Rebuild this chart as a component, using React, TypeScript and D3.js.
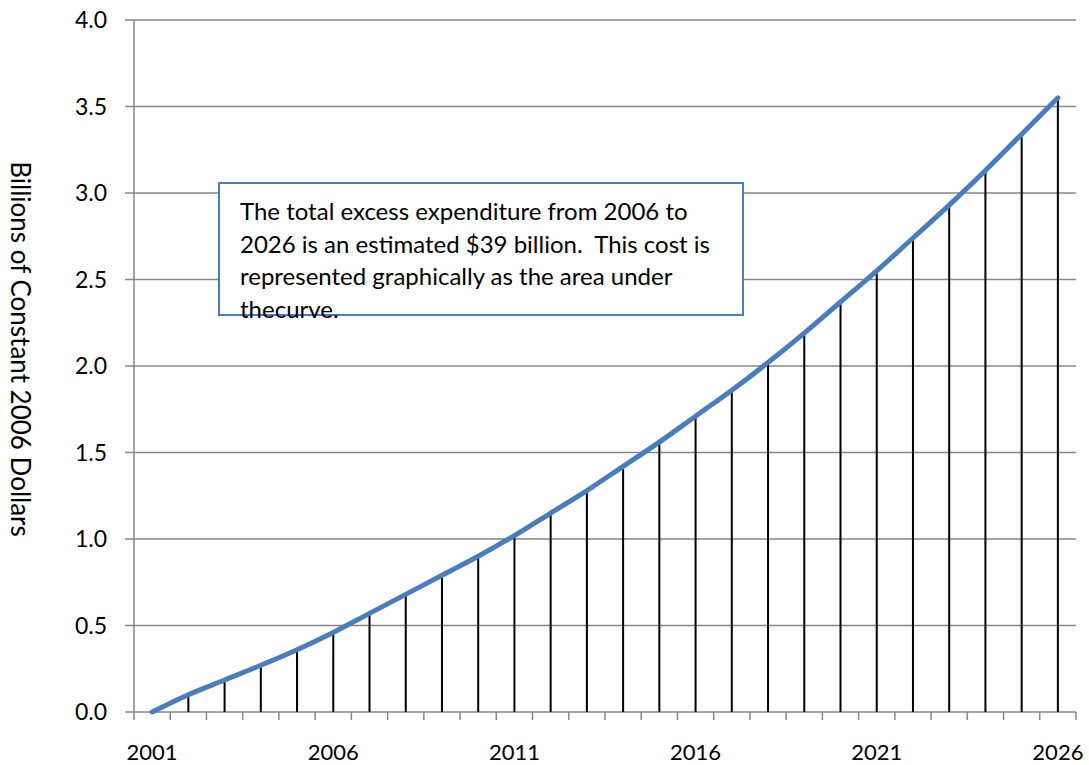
import { useEffect, useRef } from 'react';
import * as d3 from 'd3';

const years = [
  '2001', '2002', '2003', '2004', '2005', '2006', '2007', '2008', '2009', '2010',
  '2011', '2012', '2013', '2014', '2015', '2016', '2017', '2018', '2019', '2020',
  '2021', '2022', '2023', '2024', '2025', '2026',
];
const excessCost = [
  0, 0.1, 0.185, 0.27, 0.36, 0.46, 0.57, 0.68, 0.79, 0.9,
  1.02, 1.15, 1.28, 1.42, 1.56, 1.71, 1.86, 2.02, 2.19, 2.37,
  2.55, 2.74, 2.93, 3.13, 3.34, 3.55,
];
const yTicks = [0, 0.5, 1.0, 1.5, 2.0, 2.5, 3.0, 3.5, 4.0];
const xLabels = ['2001', '2006', '2011', '2016', '2021', '2026'];
const noteLines = [
  'The total excess expenditure from 2006 to',
  '2026 is an estimated $39 billion.  This cost is',
  'represented graphically as the area under',
  'thecurve.',
];

const FONT = 'Lato, "Open Sans", sans-serif';

export default function App() {
  const svgRef = useRef<SVGSVGElement>(null);

  useEffect(() => {
    if (!svgRef.current) return;
    const svg = d3.select(svgRef.current);
    svg.selectAll('*').remove();

    const left = 134;
    const right = 1076;
    const top = 20;
    const bottom = 712;

    const x = d3.scaleBand().domain(years).range([left, right]).padding(0);
    const cx = (d: string) => (x(d) || 0) + x.bandwidth() / 2;
    const y = d3.scaleLinear().domain([0, 4]).range([bottom, top]);

    const grey = '#868686';

    // gridlines + y ticks
    svg.append('g')
      .selectAll('line')
      .data(yTicks)
      .enter()
      .append('line')
      .attr('x1', left - 9)
      .attr('x2', right)
      .attr('y1', (d) => y(d))
      .attr('y2', (d) => y(d))
      .style('stroke', grey)
      .style('stroke-width', 1.5);

    // y axis line
    svg.append('line')
      .attr('x1', left)
      .attr('x2', left)
      .attr('y1', top)
      .attr('y2', bottom + 8)
      .style('stroke', grey)
      .style('stroke-width', 1.5);

    // x ticks between categories
    svg.append('g')
      .selectAll('line')
      .data(years.slice(1).concat(['end']))
      .enter()
      .append('line')
      .attr('x1', (d) => (d === 'end' ? right : x(d) || 0))
      .attr('x2', (d) => (d === 'end' ? right : x(d) || 0))
      .attr('y1', bottom)
      .attr('y2', bottom + 8)
      .style('stroke', grey)
      .style('stroke-width', 1.5);

    svg.append('g')
      .selectAll('text')
      .data(yTicks)
      .enter()
      .append('text')
      .attr('x', 107)
      .attr('y', (d) => y(d))
      .attr('dy', '0.35em')
      .attr('text-anchor', 'end')
      .style('font-family', FONT)
      .style('font-size', '23px')
      .style('fill', '#000')
      .text((d) => d.toFixed(1));

    svg.append('g')
      .selectAll('text')
      .data(xLabels)
      .enter()
      .append('text')
      .attr('x', (d) => cx(d))
      .attr('y', 760)
      .attr('text-anchor', 'middle')
      .style('font-family', FONT)
      .style('font-size', '22px')
      .style('fill', '#000')
      .text((d) => d);

    // axis title
    svg.append('text')
      .attr('transform', 'translate(11,349) rotate(90)')
      .attr('text-anchor', 'middle')
      .style('font-family', FONT)
      .style('font-size', '26px')
      .style('fill', '#000')
      .text('Billions of Constant 2006 Dollars');

    const data = years.map((yr, i) => ({ yr, v: excessCost[i] }));

    // drop lines
    svg.append('g')
      .selectAll('line')
      .data(data.filter((d) => d.v > 0))
      .enter()
      .append('line')
      .attr('x1', (d) => cx(d.yr))
      .attr('x2', (d) => cx(d.yr))
      .attr('y1', bottom)
      .attr('y2', (d) => y(d.v))
      .style('stroke', '#000')
      .style('stroke-width', 2);

    const line = d3
      .line<{ yr: string; v: number }>()
      .x((d) => cx(d.yr))
      .y((d) => y(d.v))
      .curve(d3.curveMonotoneX);

    svg.append('path')
      .datum(data)
      .attr('d', line)
      .style('fill', 'none')
      .style('stroke', '#4A7EBB')
      .style('stroke-width', 5)
      .style('stroke-linecap', 'round')
      .style('stroke-linejoin', 'round');

    // annotation box
    svg.append('rect')
      .attr('x', 219)
      .attr('y', 183)
      .attr('width', 524)
      .attr('height', 132)
      .style('fill', '#fff')
      .style('stroke', '#4A7EBB')
      .style('stroke-width', 2);

    svg.append('g')
      .selectAll('text')
      .data(noteLines)
      .enter()
      .append('text')
      .attr('x', 240)
      .attr('y', (_d, i) => 220 + i * 32.5)
      .style('font-family', FONT)
      .style('font-size', '24px')
      .style('white-space', 'pre')
      .style('fill', '#000')
      .text((d) => d);
  }, []);

  return (
    <svg
      ref={svgRef}
      width={1089}
      height={765}
      style={{ position: 'absolute', left: 0, top: 0, background: '#fff' }}
    ></svg>
  );
}
